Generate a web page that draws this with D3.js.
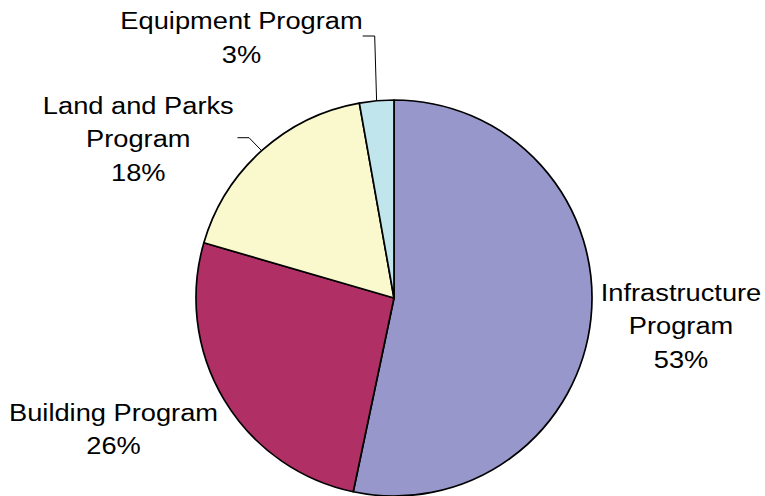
<!DOCTYPE html>
<html>
<head>
<meta charset="utf-8">
<script src="https://cdn.jsdelivr.net/npm/d3@7"></script>
<style>
  html, body { margin: 0; padding: 0; background: #fff; }
  svg { display: block; }
  text { font-family: "Liberation Sans", Arial, sans-serif; fill: #000; }
</style>
</head>
<body>
<svg id="chart" width="765" height="496"></svg>
<script>
// Data
const categories = ["Infrastructure Program", "Building Program", "Land and Parks Program", "Equipment Program"];
const values = [53.3, 26.2, 17.7, 2.8];
const labelLines = [["Infrastructure", "Program"], ["Building Program"], ["Land and Parks", "Program"], ["Equipment Program"]];
const colors = ["#9797CB", "#B03066", "#FAF8CD", "#C1E5EC"];

// Layout
const W = 765, H = 496;
const cx = 394, cy = 298, R = 198;
const fontSize = 23.5, stretch = 1.16, lineH = 33.8;
// label anchor (center x, first baseline y)
const labelPos = [[681, 300.7], [113.5, 420.7], [138.3, 113.5], [241.5, 29]];
// leader lines (for small slices)
const leaders = [null, null, [[237.5, 137.7], [249, 137.7]], [[362.7, 36], [374.7, 36]]];

const svg = d3.select("#chart");
const total = d3.sum(values);

const pie = d3.pie().sort(null).value(d => d)(values);
const arc = d3.arc().innerRadius(0).outerRadius(R);

const g = svg.append("g").attr("transform", `translate(${cx},${cy})`);
g.selectAll("path").data(pie).enter().append("path")
  .attr("d", arc)
  .attr("fill", (d, i) => colors[i])
  .attr("stroke", "#000")
  .attr("stroke-width", 1.7)
  .attr("stroke-linejoin", "round");

// leader lines ending on the pie edge at the slice's mid-angle
leaders.forEach((pts, i) => {
  if (!pts) return;
  const p = pie[i];
  const a = (p.startAngle + p.endAngle) / 2;
  const ex = cx + R * Math.sin(a), ey = cy - R * Math.cos(a);
  const all = pts.concat([[ex, ey]]);
  svg.append("path")
    .attr("d", d3.line()(all))
    .attr("fill", "none")
    .attr("stroke", "#000")
    .attr("stroke-width", 1);
});

const fmt = v => Math.round(v / total * 100) + "%";
labelLines.forEach((lines, i) => {
  const [lx, ly] = labelPos[i];
  const all = lines.concat([fmt(values[i])]);
  const t = svg.append("text")
    .attr("transform", `translate(${lx},${ly}) scale(${stretch},1)`)
    .attr("text-anchor", "middle")
    .attr("font-size", fontSize);
  all.forEach((s, k) => {
    t.append("tspan").attr("x", 0).attr("y", k * lineH).text(s);
  });
});
</script>
</body>
</html>
